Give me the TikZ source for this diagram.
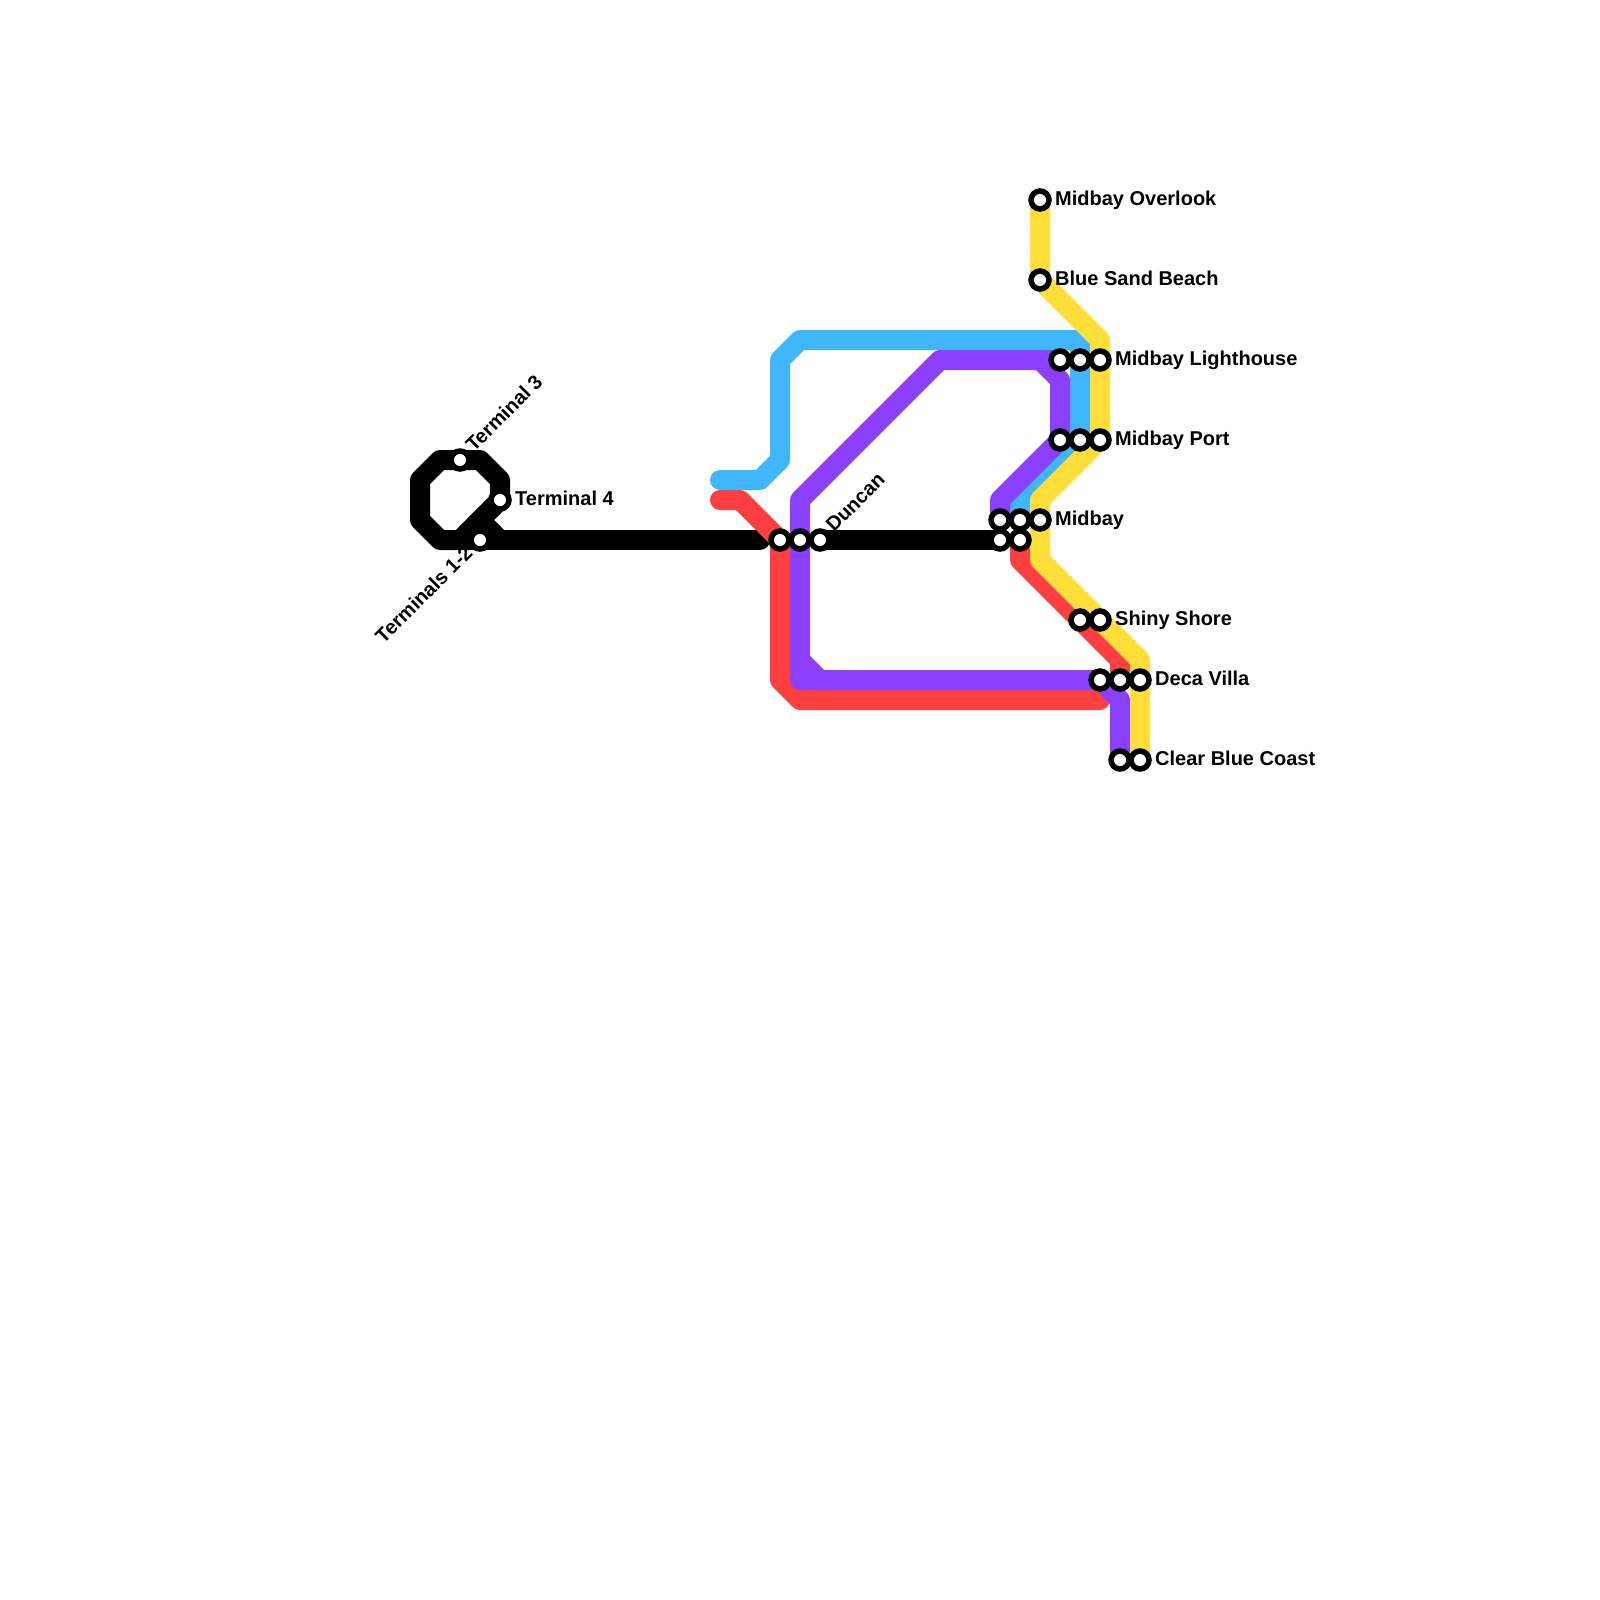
\documentclass[tikz,border=0pt]{standalone}
\usepackage{fontspec}
\setmainfont{Liberation Sans}
\tikzset{
  x=1pt,y=-1pt,
  metro/.style={line width=20pt,line join=round,line cap=round},
  bus/.style={metro,draw=#1},
  sta/.style={circle,draw=black,fill=white,line width=5.5pt,minimum size=18pt,inner sep=0pt,outer sep=0pt},
  lab/.style={font=\fontsize{20}{22}\selectfont\bfseries,inner sep=0pt,anchor=base west},
}
\definecolor{lblue}{HTML}{40B6FF}
\definecolor{lred}{HTML}{FF4040}
\definecolor{lpurple}{HTML}{8C40FF}
\definecolor{lyellow}{HTML}{FFDE3A}
\begin{document}
\begin{tikzpicture}
\useasboundingbox (0,0) rectangle (1600,1600);
% stations positions
\coordinate (tot) at (1040,200);
\coordinate (bsb) at (1040,280);
\coordinate (la) at (1060,360);
\coordinate (lb) at (1080,360);
\coordinate (lc) at (1100,360);
\coordinate (pa) at (1060,440);
\coordinate (pb) at (1080,440);
\coordinate (pc) at (1100,440);
\coordinate (ma) at (1000,520);
\coordinate (mb) at (1020,520);
\coordinate (mc) at (1040,520);
\coordinate (md) at (1000,540);
\coordinate (me) at (1020,540);
\coordinate (da) at (780,540);
\coordinate (db) at (800,540);
\coordinate (dc) at (820,540);
\coordinate (ta) at (480,540);
\coordinate (tc) at (460,460);
\coordinate (td) at (500,500);
\coordinate (sa) at (1080,620);
\coordinate (sb) at (1100,620);
\coordinate (va) at (1100,680);
\coordinate (vb) at (1120,680);
\coordinate (vc) at (1140,680);
\coordinate (ca) at (1120,760);
\coordinate (cb) at (1140,760);
% black
\draw[bus=black] (ta) -- (440,540) -- (420,520) -- (420,480) -- (440,460) -- (480,460) -- (500,480) -- (td) -- (460,540);
\draw[bus=black] (ta) -- (760,540);
\draw[bus=black] (480,520) -- (500,540);
\draw[bus=black] (dc) -- (md);
% red
\draw[bus=lred] (720,500) -- (740,500) -- (da) -- (780,680) -- (800,700) -- (1100,700);
\draw[bus=lred] (me) -- (1020,560) -- (1120,660) -- (vb);
% blue
\draw[bus=lblue] (720,480) -- (760,480) -- (780,460) -- (780,360) -- (800,340) -- (1080,340) -- (pb) -- (1020,500) -- (mb);
% purple
\draw[bus=lpurple] (ma) -- (1000,500) -- (pa) -- (1060,380) -- (1040,360) -- (940,360) -- (800,500) -- (800,660) -- (820,680) -- (1100,680) -- (1120,700) -- (ca);
\draw[bus=lpurple] (db) -- (800,680) -- (1090,680);
\draw[bus=lpurple] (la) -- (1040,360);
% yellow
\draw[bus=lyellow] (tot) -- (bsb) -- (1100,340) -- (pc) -- (1040,500) -- (1040,560) -- (1140,660) -- (cb);
% stations
\foreach \p/\q in {ta/n1,tc/n2,td/n3,da/n4,db/n5,dc/n6,md/n7,me/n8,ma/n9,mb/n10,mc/n11,tot/n12,bsb/n13,la/n14,lb/n15,lc/n16,pa/n17,pb/n18,pc/n19,sa/n20,sb/n21,va/n22,vb/n23,vc/n24,ca/n25,cb/n26}
  \node[sta] (\q) at (\p) {};
% labels
\node[lab] (t1) at (1055,205) {Midbay Overlook};
\node[lab] (t2) at (1055,285) {Blue Sand Beach};
\node[lab] (t3) at (1115,365) {Midbay Lighthouse};
\node[lab] (t4) at (1115,445) {Midbay Port};
\node[lab] (t5) at (1055,525) {Midbay};
\node[lab] (t6) at (1115,625) {Shiny Shore};
\node[lab] (t7) at (1155,685) {Deca Villa};
\node[lab] (t8) at (1155,765) {Clear Blue Coast};
\node[lab] (t9) at (515,505) {Terminal 4};
\node[lab,rotate=45] (t10) at (474,453) {Terminal 3};
\node[lab,rotate=45] (t11) at (834,533) {Duncan};
\node[lab,rotate=45,anchor=base east] (t12) at (474,554) {Terminals 1-2};
\end{tikzpicture}
\end{document}
